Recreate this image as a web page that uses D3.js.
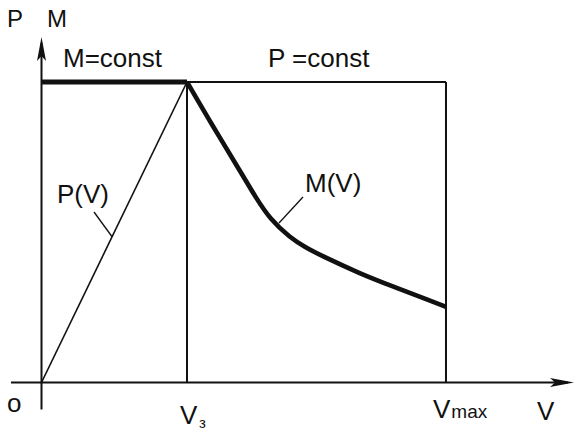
<!DOCTYPE html>
<html>
<head>
<meta charset="utf-8">
<script src="https://cdn.jsdelivr.net/npm/d3@7"></script>
<style>
  html, body { margin: 0; padding: 0; background: #fff; }
  svg { display: block; }
  text { font-family: "Liberation Sans", Arial, sans-serif; fill: #111; }
</style>
</head>
<body>
<svg id="chart" width="574" height="430"></svg>
<script>
// Characteristic points on the V axis (speed, in units of Vs)
const vPoints = [0, 1, 2.78];          // origin, Vs, Vmax
const mConst = 1;                      // constant torque level (M = const)

// P(V): power rises linearly up to Vs
const powerV = [0, 1];
const powerP = [0, 1];

// M(V): torque falling beyond Vs (constant power region)
const torqueV = [1.0, 1.172, 1.385, 1.467, 1.571, 1.709, 1.813, 1.915, 2.191, 2.418, 2.652, 2.78];
const torqueM = [1.0, 0.857, 0.688, 0.620, 0.543, 0.482, 0.450, 0.424, 0.362, 0.319, 0.276, 0.252];

// Axis labels
const axisLabels = ["P", "M", "V", "o"];

const svg = d3.select("#chart");
const x = d3.scaleLinear().domain([0, 1]).range([41.5, 187]);
const y = d3.scaleLinear().domain([0, 1]).range([382.5, 82]);

const ink = "#111";

// Axes with arrow heads
const xAxisExt = [-0.21, 3.66];
const yAxisExt = [-0.09, 1.15];
svg.append("line")
  .attr("x1", x(xAxisExt[0])).attr("x2", x(xAxisExt[1]) - 6)
  .attr("y1", y(0)).attr("y2", y(0))
  .attr("stroke", ink).attr("stroke-width", 2);
svg.append("line")
  .attr("x1", x(0)).attr("x2", x(0))
  .attr("y1", y(yAxisExt[0])).attr("y2", y(yAxisExt[1]) + 6)
  .attr("stroke", ink).attr("stroke-width", 2);

const xt = x(xAxisExt[1]), yt = y(yAxisExt[1]);
svg.append("path")
  .attr("d", `M${xt},${y(0)} L${xt - 24},${y(0) - 4.5} L${xt - 19},${y(0)} L${xt - 24},${y(0) + 4.5} Z`)
  .attr("fill", ink);
svg.append("path")
  .attr("d", `M${x(0)},${yt} L${x(0) - 4.5},${yt + 24} L${x(0)},${yt + 19} L${x(0) + 4.5},${yt + 24} Z`)
  .attr("fill", ink);

// Region boundaries: verticals at Vs and Vmax, P = const on top
[vPoints[1], vPoints[2]].forEach(v => {
  svg.append("line")
    .attr("x1", x(v)).attr("x2", x(v))
    .attr("y1", y(0)).attr("y2", y(mConst))
    .attr("stroke", ink).attr("stroke-width", 2);
});
svg.append("line")
  .attr("x1", x(vPoints[1])).attr("x2", x(vPoints[2]))
  .attr("y1", y(mConst)).attr("y2", y(mConst))
  .attr("stroke", ink).attr("stroke-width", 2);

// M = const (thick) from 0 to Vs
svg.append("line")
  .attr("x1", x(vPoints[0])).attr("x2", x(vPoints[1]))
  .attr("y1", y(mConst)).attr("y2", y(mConst))
  .attr("stroke", ink).attr("stroke-width", 5);

// P(V) line
const line = d3.line().x(d => x(d[0])).y(d => y(d[1]));
svg.append("path")
  .attr("d", line(d3.zip(powerV, powerP)))
  .attr("fill", "none").attr("stroke", ink).attr("stroke-width", 1.6);

// M(V) curve
svg.append("path")
  .attr("d", line.curve(d3.curveBasis)(d3.zip(torqueV, torqueM)))
  .attr("fill", "none").attr("stroke", ink).attr("stroke-width", 4.6)
  .attr("stroke-linecap", "butt");

// Leader lines for curve labels
const pMid = 0.485;
svg.append("line")
  .attr("x1", 94).attr("y1", 212)
  .attr("x2", x(pMid)).attr("y2", y(pMid))
  .attr("stroke", ink).attr("stroke-width", 1.3);
svg.append("line")
  .attr("x1", 303).attr("y1", 197)
  .attr("x2", 279).attr("y2", 223)
  .attr("stroke", ink).attr("stroke-width", 1.3);

// Text
const fs = 26;
function label(txt, tx, ty, size) {
  return svg.append("text").attr("x", tx).attr("y", ty)
    .attr("font-size", size || fs).text(txt);
}
label(axisLabels[0], 7, 27, 24);
label(axisLabels[1], 47, 27, 24);
label("M=const", 63, 67);
label("P =const", 268, 67);
label("P(V)", 57, 203);
label("M(V)", 305, 192);
label(axisLabels[3], 7, 412);
label(axisLabels[2], 537, 420);

// Vs label
label("V", 180, 424);
svg.append("text").attr("x", 199).attr("y", 428).attr("font-size", 15).text("з");

// Vmax label
const vm = svg.append("text").attr("x", 433).attr("y", 418).attr("font-size", fs);
vm.append("tspan").text("V");
vm.append("tspan").attr("font-size", 19).attr("dx", 1).text("max");
</script>
</body>
</html>
